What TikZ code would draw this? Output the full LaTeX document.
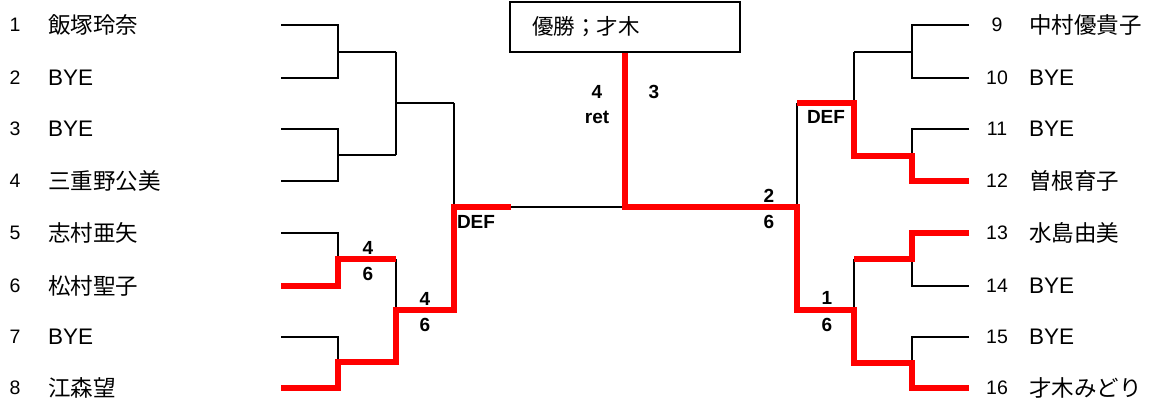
\documentclass[tikz,border=0pt]{standalone}
\usepackage{fontspec}
\setmainfont{Liberation Sans}
\newfontfamily\jpfont{Noto Sans CJK JP}

\begin{document}
\begin{tikzpicture}[x=1pt,y=-1pt,
  bline/.style={line width=2pt,line join=miter},
  wline/.style={red,line width=6.5pt,line join=miter},
  num/.style={inner sep=0pt,font=\fontsize{19.5}{19.5}\selectfont},
  pname/.style={anchor=west,inner sep=0pt,font=\jpfont\fontsize{22.5}{22.5}\selectfont},
  score/.style={inner sep=0pt,font=\bfseries\fontsize{19}{19}\selectfont}]
\useasboundingbox (0,0) rectangle (1150,399);

% entries, left half
\foreach \i/\y/\n in {1/25/飯塚玲奈, 2/78/{\rmfamily BYE}, 3/129/{\rmfamily BYE}, 4/181/三重野公美,
    5/233/志村亜矢, 6/286/松村聖子, 7/337/{\rmfamily BYE}, 8/388/江森望}{
  \node[num] (num\i) at (15,\y) {\i};
  \node[pname] (name\i) at (48,\y) {\n};
  \coordinate (s\i) at (281,\y);
}
% entries, right half
\foreach \i/\y/\n in {9/25/中村優貴子, 10/78/{\rmfamily BYE}, 11/129/{\rmfamily BYE}, 12/181/曽根育子,
    13/233/水島由美, 14/286/{\rmfamily BYE}, 15/337/{\rmfamily BYE}, 16/388/才木みどり}{
  \node[num] (num\i) at (997,\y) {\i};
  \node[pname] (name\i) at (1029,\y) {\n};
  \coordinate (s\i) at (969,\y);
}

\node[draw,line width=2.5pt,inner xsep=22pt,text width=186pt,minimum height=50pt,
  font=\jpfont\fontsize{21.5}{21.5}\selectfont] (champ) at (625,27) {優勝；才木};

% bracket
\foreach \a/\b/\m in {1/2/51.5, 3/4/155, 5/6/259, 7/8/362}
  \draw[bline] (s\a) -| (338,\m) |- (s\b) (338,\m) -- (396,\m);
\foreach \a/\b/\m in {9/10/51.5, 11/12/155, 13/14/259, 15/16/362}
  \draw[bline] (s\a) -| (912,\m) |- (s\b) (912,\m) -- (854,\m);
\foreach \a/\b/\m in {51.5/155/103, 259/362/310}{
  \draw[bline] (396,\a) -- (396,\b) (396,\m) -- (454,\m);
  \draw[bline] (854,\a) -- (854,\b) (854,\m) -- (797,\m);
}
\draw[bline] (454,103) -- (454,310) (797,103) -- (797,310) (454,207) -- (797,207);

% winners
\draw[wline] (s6) -| (338,259) -- (396,259);
\draw[wline] (s8) -| (338,362) -| (396,310) -| (454,207) -- (511,207);
\draw[wline] (champ.south) |- (797,207) |- (854,310) |- (912,363) |- (s16);
\draw[wline] (797,103) -- (854,103) |- (912,156) |- (s12);
\draw[wline] (s13) -| (912,259) -- (854,259);

% scores
\foreach \t/\x/\y [count=\k] in {4/368/248, 6/368/274, 4/425/299, 6/425/325, DEF/476/222,
    4/597/92, ret/597/117, 3/654/92, 2/769/196, 6/769/222, DEF/826/117, 1/827/298, 6/827/325}
  \node[score] (sc\k) at (\x,\y) {\t};
\end{tikzpicture}
\end{document}
